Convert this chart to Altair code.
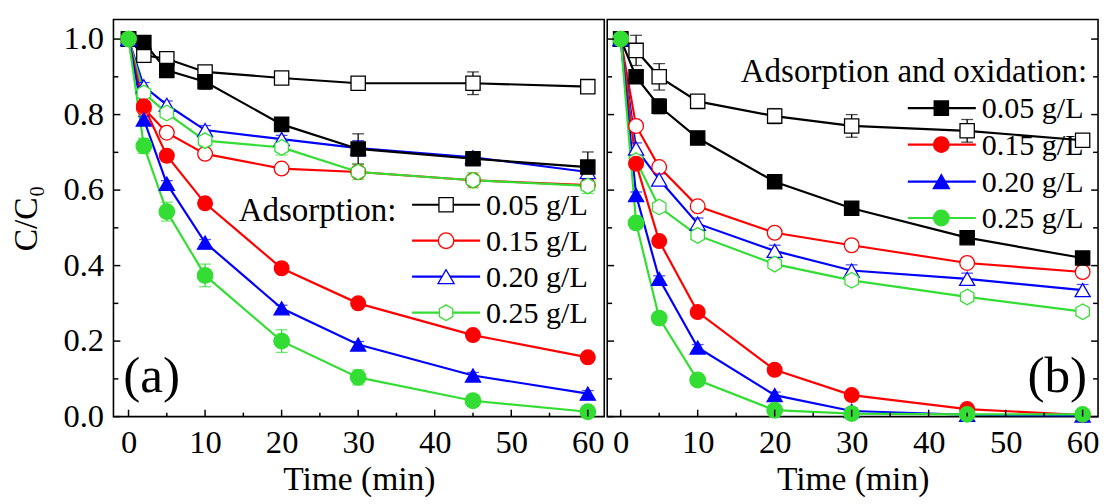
import altair as alt
import pandas as pd

# ---------------- data ----------------
times = [0, 2, 5, 10, 20, 30, 45, 60]
concs = ["0.05 g/L", "0.15 g/L", "0.20 g/L", "0.25 g/L"]

# panel (a) - adsorption (open) and filled series
a_open = {
    "0.05 g/L": [1.0, 0.957, 0.948, 0.913, 0.897, 0.883, 0.883, 0.874],
    "0.15 g/L": [1.0, 0.817, 0.752, 0.696, 0.657, 0.648, 0.626, 0.613],
    "0.20 g/L": [1.0, 0.875, 0.826, 0.759, 0.735, 0.711, 0.687, 0.648],
    "0.25 g/L": [1.0, 0.857, 0.804, 0.731, 0.713, 0.648, 0.626, 0.611],
}
a_open_err = {
    "0.05 g/L": [0.0, 0.010, 0.015, 0.015, 0.012, 0.012, 0.030, 0.012],
    "0.15 g/L": [0.0, 0.010, 0.010, 0.010, 0.010, 0.010, 0.010, 0.010],
    "0.20 g/L": [0.0, 0.010, 0.010, 0.012, 0.010, 0.020, 0.010, 0.010],
    "0.25 g/L": [0.0, 0.010, 0.010, 0.015, 0.020, 0.020, 0.020, 0.020],
}
a_filled = {
    "0.05 g/L": [1.0, 0.991, 0.917, 0.887, 0.774, 0.709, 0.683, 0.661],
    "0.15 g/L": [1.0, 0.822, 0.691, 0.565, 0.393, 0.300, 0.216, 0.157],
    "0.20 g/L": [1.0, 0.787, 0.617, 0.461, 0.287, 0.191, 0.109, 0.061],
    "0.25 g/L": [1.0, 0.717, 0.543, 0.374, 0.200, 0.104, 0.042, 0.013],
}
a_filled_err = {
    "0.05 g/L": [0.0, 0.008, 0.010, 0.020, 0.010, 0.040, 0.010, 0.040],
    "0.15 g/L": [0.0, 0.008, 0.008, 0.008, 0.010, 0.008, 0.008, 0.008],
    "0.20 g/L": [0.0, 0.008, 0.008, 0.008, 0.008, 0.008, 0.008, 0.008],
    "0.25 g/L": [0.0, 0.020, 0.025, 0.030, 0.030, 0.020, 0.008, 0.008],
}

# panel (b) - adsorption and oxidation
b_open = {
    "0.05 g/L": [1.0, 0.970, 0.900, 0.835, 0.796, 0.770, 0.757, 0.732],
    "0.15 g/L": [1.0, 0.770, 0.661, 0.557, 0.487, 0.454, 0.407, 0.383],
    "0.20 g/L": [1.0, 0.710, 0.628, 0.511, 0.439, 0.387, 0.365, 0.335],
    "0.25 g/L": [1.0, 0.678, 0.555, 0.480, 0.404, 0.361, 0.317, 0.278],
}
b_open_err = {
    "0.05 g/L": [0.0, 0.040, 0.035, 0.015, 0.020, 0.030, 0.030, 0.010],
    "0.15 g/L": [0.0, 0.010, 0.010, 0.010, 0.012, 0.012, 0.012, 0.010],
    "0.20 g/L": [0.0, 0.015, 0.015, 0.015, 0.015, 0.015, 0.015, 0.015],
    "0.25 g/L": [0.0, 0.010, 0.010, 0.010, 0.012, 0.012, 0.010, 0.012],
}
b_filled = {
    "0.05 g/L": [1.0, 0.900, 0.822, 0.738, 0.622, 0.552, 0.474, 0.420],
    "0.15 g/L": [1.0, 0.670, 0.465, 0.277, 0.124, 0.057, 0.020, 0.004],
    "0.20 g/L": [1.0, 0.587, 0.365, 0.183, 0.057, 0.015, 0.005, 0.003],
    "0.25 g/L": [1.0, 0.513, 0.261, 0.097, 0.017, 0.008, 0.006, 0.006],
}
b_filled_err = {
    "0.05 g/L": [0.0, 0.008, 0.020, 0.008, 0.008, 0.008, 0.008, 0.008],
    "0.15 g/L": [0.0, 0.008, 0.008, 0.008, 0.008, 0.008, 0.008, 0.008],
    "0.20 g/L": [0.0, 0.008, 0.008, 0.008, 0.008, 0.008, 0.008, 0.008],
    "0.25 g/L": [0.0, 0.008, 0.008, 0.008, 0.008, 0.008, 0.008, 0.008],
}

x_major = [0, 10, 20, 30, 40, 50, 60]
x_minor = [5, 15, 25, 35, 45, 55]
y_major = [0.0, 0.2, 0.4, 0.6, 0.8, 1.0]
y_minor = [0.1, 0.3, 0.5, 0.7, 0.9]

legend_a_title = "Adsorption:"
legend_b_title = "Adsorption and oxidation:"

# ---------------- styling ----------------
FONT = "Liberation Serif"
colors = ["#000000", "#ff0000", "#0000ff", "#33dd33"]
hexagon = "M0,-1L0.866,-0.5L0.866,0.5L0,1L-0.866,0.5L-0.866,-0.5Z"
open_shapes = ["square", "circle", "triangle-up", hexagon]
filled_shapes = ["square", "circle", "triangle-up", "circle"]
sym_sizes = [210, 250, 270, 250]

W, H = 498, 403
YDOM = [0, 1.052]

rows = []
for panel, kind, vals, errs in [
    ("a", "open", a_open, a_open_err),
    ("a", "filled", a_filled, a_filled_err),
    ("b", "open", b_open, b_open_err),
    ("b", "filled", b_filled, b_filled_err),
]:
    for c in concs:
        for t, v, e in zip(times, vals[c], errs[c]):
            rows.append(dict(panel=panel, kind=kind, conc=c, key=f"{c} {kind}",
                             t=t, v=v, lo=v - e, hi=v + e, err=e))
df = pd.DataFrame(rows)

color_scale = alt.Scale(domain=concs, range=colors)
shape_scale = alt.Scale(domain=[f"{c} open" for c in concs] + [f"{c} filled" for c in concs],
                        range=open_shapes + filled_shapes)
size_scale = alt.Scale(domain=concs, range=sym_sizes)
dummy = pd.DataFrame({"k": [0]})


def make_panel(pid, xdom, show_y, title_text, leg_kind, leg):
    d = df[df.panel == pid]
    xs = alt.Scale(domain=xdom, nice=False, zero=False)
    ys = alt.Scale(domain=YDOM, nice=False, zero=False)
    x_axis = alt.Axis(values=x_major, format="d", ticks=False, domain=False, grid=False,
                      labelFont=FONT, labelFontSize=33, labelColor="black", labelPadding=10,
                      labelOverlap=False, labelFlush=False,
                      title="Time (min)", titleFont=FONT, titleFontSize=34,
                      titleFontWeight="normal", titleColor="black", titlePadding=4)
    if show_y:
        y_axis = alt.Axis(values=y_major, format=".1f", ticks=False, domain=False, grid=False,
                          labelFont=FONT, labelFontSize=33, labelColor="black", labelPadding=10,
                          labelOverlap=False, labelFlush=False,
                          title="C/C₀", titleFont=FONT, titleFontSize=34,
                          titleFontWeight="normal", titleColor="black", titlePadding=20)
    else:
        y_axis = None

    def X(field="t"):
        return alt.X(f"{field}:Q", scale=xs, axis=x_axis)

    def Y(field="v"):
        return alt.Y(f"{field}:Q", scale=ys, axis=y_axis)

    layers = []
    lines = alt.Chart(d).mark_line(strokeWidth=2.2).encode(
        x=X(), y=Y(),
        stroke=alt.Stroke("conc:N", scale=color_scale, legend=None),
        detail="key:N",
    )
    layers.append(lines)

    # legend
    lx1, lx2, sx, tx, row_y, hx, hy = leg
    layers.append(alt.Chart(dummy).mark_text(
        text=title_text, align="right", baseline="alphabetic", font=FONT, fontSize=33.5,
        color="black").encode(x=alt.value(hx), y=alt.value(hy)))
    shapes = open_shapes if leg_kind == "open" else filled_shapes
    for c, col, shp, sz, ry in zip(concs, colors, shapes, sym_sizes, row_y):
        layers.append(alt.Chart(dummy).mark_rule(color=col, strokeWidth=2.2).encode(
            x=alt.value(lx1), x2=alt.value(lx2), y=alt.value(ry)))
        layers.append(alt.Chart(dummy).mark_point(
            filled=True, size=sz, strokeWidth=1.3, stroke=col,
            fill=("white" if leg_kind == "open" else col), shape=shp, opacity=1).encode(
            x=alt.value(sx), y=alt.value(ry)))
        layers.append(alt.Chart(dummy).mark_text(
            text=c, align="left", baseline="alphabetic", font=FONT, fontSize=30.5,
            color="black").encode(x=alt.value(tx), y=alt.value(ry + 10.5)))

    errs = alt.Chart(d[d.err > 0]).mark_errorbar(ticks={"size": 12}, thickness=1.3).encode(
        x=X(), y=Y("lo"), y2="hi:Q",
        color=alt.Color("conc:N", scale=color_scale, legend=None),
    )
    layers.append(errs)

    for kind in ["open", "filled"]:
        dd = d[d.kind == kind]
        enc = dict(
            x=X(), y=Y(),
            shape=alt.Shape("key:N", scale=shape_scale, legend=None),
            stroke=alt.Stroke("conc:N", scale=color_scale, legend=None),
            size=alt.Size("conc:N", scale=size_scale, legend=None),
        )
        if kind == "open":
            enc["fill"] = alt.value("white")
        else:
            enc["fill"] = alt.Fill("conc:N", scale=color_scale, legend=None)
        layers.append(alt.Chart(dd).mark_point(filled=True, strokeWidth=1.3, opacity=1).encode(**enc))

    # inward ticks
    tick_style = dict(color="black", strokeWidth=1.5)
    layers.append(alt.Chart(pd.DataFrame({"t": x_major})).mark_rule(**tick_style).encode(
        x=X(), y=alt.value(H), y2=alt.value(H - 7)))
    layers.append(alt.Chart(pd.DataFrame({"t": x_minor})).mark_rule(**tick_style).encode(
        x=X(), y=alt.value(H), y2=alt.value(H - 4)))
    for xv, dx in ([(0, 1)] if pid == "a" else [(0, 1), (W, -1)]):
        layers.append(alt.Chart(pd.DataFrame({"v": y_major})).mark_rule(**tick_style).encode(
            y=Y(), x=alt.value(xv), x2=alt.value(xv + 7 * dx)))
        layers.append(alt.Chart(pd.DataFrame({"v": y_minor})).mark_rule(**tick_style).encode(
            y=Y(), x=alt.value(xv), x2=alt.value(xv + 5 * dx)))

    # panel label
    if pid == "a":
        layers.append(alt.Chart(dummy).mark_text(
            text="(a)", align="left", baseline="alphabetic", font=FONT, fontSize=52,
            color="black").encode(x=alt.value(10), y=alt.value(378)))
    else:
        layers.append(alt.Chart(dummy).mark_text(
            text="(b)", align="right", baseline="alphabetic", font=FONT, fontSize=52,
            color="black").encode(x=alt.value(487), y=alt.value(378)))

    return alt.layer(*layers).properties(width=W, height=H)


panel_a = make_panel(
    "a", [-1.97, 62.15], True, legend_a_title, "open",
    (303, 372, 337.5, 378, [188, 224.5, 261, 297.5], 287, 205))
panel_b = make_panel(
    "b", [-1.75, 62.0], False, legend_b_title, "filled",
    (305, 374, 339, 380, [90, 127, 164.5, 201.5], 487, 63.5))

chart = alt.hconcat(panel_a, panel_b, spacing=0).properties(
    padding={"left": 0, "top": 7, "right": 0, "bottom": 0},
    background="white",
).configure_view(stroke="black", strokeWidth=1.6)

chart.save("out.html", embed_options={"renderer": "svg", "actions": False})
